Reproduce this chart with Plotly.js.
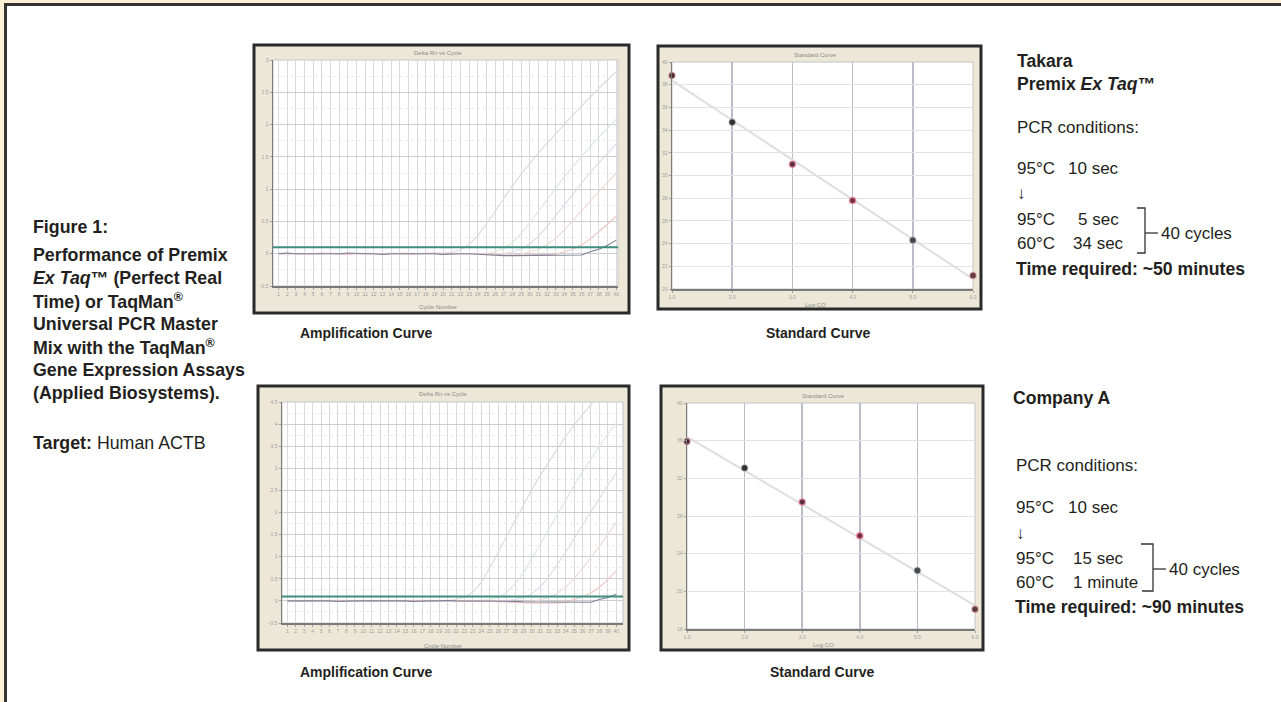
<!DOCTYPE html>
<html><head><meta charset="utf-8">
<script src="https://cdn.plot.ly/plotly-3.0.1.min.js"></script>
<style>html,body{margin:0;padding:0;background:#fff;}#chart{width:1281px;height:702px;}</style>
</head><body><div id="chart"></div>
<script>
// ---------------- DATA ----------------
const cycles = [1,2,3,4,5,6,7,8,9,10,11,12,13,14,15,16,17,18,19,20,21,22,23,24,25,26,27,28,29,30,31,32,33,34,35,36,37,38,39,40];

// Takara Premix Ex Taq - amplification (Delta Rn per cycle)
const ampTop1 = [0.00,0.01,0.00,-0.01,0.00,0.01,0.00,0.00,-0.01,0.00, 0.01,0.00,0.00,-0.01,0.00,0.00,0.01,0.00,0.00,0.01, 0.02,0.06,0.14,0.28,0.46,0.66,0.86,1.05,1.23,1.40, 1.56,1.71,1.86,2.01,2.15,2.29,2.43,2.56,2.69,2.82];
const ampTop2 = [0.00,0.00,0.01,0.00,-0.01,0.00,0.00,0.01,0.00,0.00, -0.01,0.00,0.00,0.01,0.00,0.00,-0.01,0.00,0.00,0.00, 0.01,0.00,0.00,-0.01,0.00,0.03,0.08,0.17,0.31,0.48, 0.66,0.84,1.02,1.19,1.35,1.51,1.66,1.81,1.95,2.08];
const ampTop3 = [0.00,-0.01,0.00,0.00,0.01,0.00,0.00,-0.01,0.00,0.01, 0.00,0.00,0.00,-0.01,0.00,0.01,0.00,0.00,0.00,-0.01, 0.00,0.00,0.01,0.00,0.00,-0.01,0.00,0.03,0.07,0.15, 0.27,0.42,0.59,0.76,0.93,1.10,1.26,1.41,1.56,1.70];
const ampTop4 = [0.01,0.00,0.00,0.00,-0.01,0.00,0.01,0.00,0.00,0.00, 0.00,-0.01,0.00,0.00,0.01,0.00,0.00,0.00,-0.01,0.00, 0.00,0.01,0.00,0.00,-0.01,0.00,0.00,-0.01,-0.01,0.03, 0.07,0.14,0.24,0.37,0.52,0.67,0.82,0.97,1.11,1.25];
const ampTop5 = [0.00,0.00,-0.01,0.00,0.00,0.01,0.00,0.00,-0.01,0.00, 0.00,0.01,0.00,0.00,0.00,-0.01,0.00,0.00,0.01,0.00, 0.00,0.00,-0.01,0.00,0.00,0.00,-0.02,-0.02,-0.02,-0.02, -0.02,-0.01,-0.01,0.03,0.07,0.14,0.23,0.34,0.46,0.58];
const ampTop6 = [0.00,0.01,0.00,0.00,0.00,-0.01,0.00,0.00,0.01,0.00, 0.00,0.00,-0.01,0.00,0.00,0.00,0.01,0.00,0.00,-0.01, 0.00,0.00,0.00,-0.01,-0.02,-0.02,-0.03,-0.03,-0.03,-0.03, -0.03,-0.03,-0.03,-0.02,-0.02,-0.02,0.03,0.07,0.13,0.21];
const thresholdTop = 0.1;

// Takara - standard curve
const logQty = [1,2,3,4,5,6];
const ctTop = [38.8,34.7,31.0,27.8,24.3,21.2];

// Company A - amplification
const ampBot1 = [0.00,0.01,0.00,0.00,-0.01,0.00,0.00,0.01,0.00,0.00, 0.00,-0.01,0.00,0.00,0.01,0.00,0.00,0.00,0.00,0.01, 0.03,0.08,0.20,0.42,0.75,1.10,1.47,1.83,2.18,2.52, 2.84,3.15,3.44,3.72,3.98,4.22,4.44,4.64,4.82,4.98];
const ampBot2 = [0.00,0.00,0.01,0.00,0.00,-0.01,0.00,0.00,0.01,0.00, 0.00,0.00,-0.01,0.00,0.00,0.01,0.00,0.00,0.00,-0.01, 0.00,0.00,0.01,0.00,0.03,0.08,0.19,0.38,0.64,0.95, 1.28,1.62,1.96,2.29,2.61,2.92,3.22,3.50,3.77,4.02];
const ampBot3 = [0.01,0.00,0.00,-0.01,0.00,0.00,0.01,0.00,0.00,0.00, -0.01,0.00,0.00,0.00,0.01,0.00,0.00,-0.01,0.00,0.00, 0.00,0.01,0.00,0.00,-0.01,0.00,0.00,0.03,0.07,0.16, 0.32,0.54,0.81,1.10,1.41,1.72,2.03,2.33,2.62,2.90];
const ampBot4 = [0.00,0.00,0.00,0.01,0.00,0.00,-0.01,0.00,0.00,0.01, 0.00,0.00,0.00,-0.01,0.00,0.00,0.01,0.00,0.00,0.00, -0.01,0.00,0.00,0.01,0.00,0.00,-0.01,-0.02,-0.02,-0.02, 0.03,0.08,0.17,0.31,0.50,0.73,0.98,1.24,1.51,1.77];
const ampBot5 = [0.00,-0.01,0.00,0.00,0.00,0.01,0.00,0.00,-0.01,0.00, 0.01,0.00,0.00,0.00,-0.01,0.00,0.00,0.01,0.00,0.00, 0.00,0.00,-0.01,0.00,0.00,-0.02,-0.03,-0.04,-0.05,-0.05, -0.05,-0.05,-0.05,-0.04,0.04,0.09,0.18,0.31,0.48,0.68];
const ampBot6 = [0.00,0.00,0.01,0.00,0.00,0.00,-0.01,0.00,0.00,0.00, 0.00,0.01,0.00,0.00,0.00,-0.01,0.00,0.00,0.00,0.01, 0.00,0.00,0.00,-0.01,0.00,0.00,-0.01,-0.01,-0.02,-0.02, -0.02,-0.03,-0.03,-0.03,-0.03,-0.03,-0.03,0.03,0.08,0.15];
const thresholdBot = 0.1;

// Company A - standard curve
const ctBot = [35.9,33.1,29.5,25.9,22.2,18.1];

// ---------------- LAYOUT HELPERS ----------------
const W = 1281, H = 702;
const X = p => p / W;
const Y = p => 1 - p / H;
const FONT = 'Liberation Sans, Arial, Helvetica, sans-serif';
const INK = '#231f20';

const panels = [
  {box:[254,45,629,313], plot:[273,60,618,286], title:'Delta Rn vs Cycle', xt:'Cycle Number', tpos:[438,53], xpos:[438,307]},
  {box:[658,46,981,309], plot:[672,62,973,289], title:'Standard Curve', xt:'Log CO', tpos:[815,55], xpos:[815,305]},
  {box:[258,386,629,650], plot:[282,402,623,623], title:'Delta Rn vs Cycle', xt:'Cycle Number', tpos:[443,394], xpos:[443,646]},
  {box:[661,386,983,650], plot:[687,403,975,629], title:'Standard Curve', xt:'Log CO', tpos:[823,396], xpos:[823,645]}
];

const shapes = [];
// outer page frame
shapes.push({type:'rect', xref:'paper', yref:'paper', x0:0, x1:X(4), y0:0, y1:1, fillcolor:'#fdf0d5', line:{width:0}, layer:'below'});
shapes.push({type:'rect', xref:'paper', yref:'paper', x0:0, x1:1, y0:Y(3), y1:1, fillcolor:'#fdf0d5', line:{width:0}, layer:'below'});
shapes.push({type:'rect', xref:'paper', yref:'paper', x0:X(5.5), x1:X(1300), y0:Y(720), y1:Y(4.5), fillcolor:'rgba(0,0,0,0)', line:{color:'#333333', width:3}, layer:'below'});

panels.forEach(p => {
  shapes.push({type:'rect', xref:'paper', yref:'paper', x0:X(p.box[0]), x1:X(p.box[2]), y0:Y(p.box[3]), y1:Y(p.box[1]),
    fillcolor:'#ece7d6', line:{color:'#2a2a2a', width:3}, layer:'below'});
  shapes.push({type:'rect', xref:'paper', yref:'paper', x0:X(p.plot[0]), x1:X(p.plot[2]), y0:Y(p.plot[3]), y1:Y(p.plot[1]),
    fillcolor:'#ffffff', line:{color:'#c4c4c4', width:1}, layer:'below'});
});

// thresholds
shapes.push({type:'line', xref:'x domain', yref:'y', x0:0, x1:1, y0:thresholdTop, y1:thresholdTop, line:{color:'#3f8d80', width:2}});
shapes.push({type:'line', xref:'x3 domain', yref:'y3', x0:0, x1:1, y0:thresholdBot, y1:thresholdBot, line:{color:'#3f8d80', width:2}});

// brackets
function path(pts){ return pts.map((q,i)=>(i?'L':'M')+X(q[0])+','+Y(q[1])).join(' '); }
shapes.push({type:'path', xref:'paper', yref:'paper', path:path([[1137,208],[1145,208],[1145,253],[1137,253]]), line:{color:'#333', width:1.3}});
shapes.push({type:'path', xref:'paper', yref:'paper', path:path([[1145,233],[1158,233]]), line:{color:'#333', width:1.3}});
shapes.push({type:'path', xref:'paper', yref:'paper', path:path([[1141,544],[1153,544],[1153,591],[1142,591]]), line:{color:'#333', width:1.3}});
shapes.push({type:'path', xref:'paper', yref:'paper', path:path([[1153,569],[1166,569]]), line:{color:'#333', width:1.3}});

// ---------------- ANNOTATIONS ----------------
const ann = [];
function t(x, y, text, size, bold, anchor, color, fam){
  ann.push({xref:'paper', yref:'paper', x:X(x), y:Y(y), xanchor:anchor||'left', yanchor:'middle',
    text: bold ? '<b>'+text+'</b>' : text, showarrow:false, borderpad:0,
    font:{family:fam||FONT, size:size, color:color||INK}});
}
// left block
const LX = 32, LS = 17.8;
t(LX,227,'Figure 1:',LS,true);
t(LX,255,'Performance of Premix',LS,true);
t(LX,278,'<i>Ex Taq</i>™ (Perfect Real',LS,true);
t(LX,301,'Time) or TaqMan<sup>®</sup>',LS,true);
t(LX,324,'Universal PCR Master',LS,true);
t(LX,347,'Mix with the TaqMan<sup>®</sup>',LS,true);
t(LX,370,'Gene Expression Assays',LS,true);
t(LX,393,'(Applied Biosystems).',LS,true);
t(LX,443,'<b>Target:</b> Human ACTB',LS,false);

// right top block
const RS = 17, RB = 17.6;
t(1016,61,'Takara',RB,true);
t(1016,84,'Premix <i>Ex Taq</i>™',RB,true);
t(1016,128,'PCR conditions:',RS);
t(1016,168,'95°C',RS); t(1067,168,'10 sec',RS);
t(1016,193,'↓',RS);
t(1016,220,'95°C',RS); t(1077,220,'5 sec',RS);
t(1016,243,'60°C',RS); t(1072,243,'34 sec',RS);
t(1160,233,'40 cycles',RS);
t(1015,269,'Time required: ~50 minutes',RB,true);

// right bottom block
t(1012,398,'Company A',RB,true);
t(1015,465,'PCR conditions:',RS);
t(1015,507,'95°C',RS); t(1067,507,'10 sec',RS);
t(1015,533,'↓',RS);
t(1015,558,'95°C',RS); t(1072,558,'15 sec',RS);
t(1015,582,'60°C',RS); t(1072,582,'1 minute',RS);
t(1168,569,'40 cycles',RS);
t(1014,607,'Time required: ~90 minutes',RB,true);

// captions
t(366,333,'Amplification Curve',14,true,'center');
t(818,333,'Standard Curve',14,true,'center');
t(366,672,'Amplification Curve',14,true,'center');
t(822,672,'Standard Curve',14,true,'center');

// small in-panel labels
panels.forEach(p => {
  t(p.tpos[0], p.tpos[1], p.title, 6, false, 'center', '#8a8a8a');
  t(p.xpos[0], p.xpos[1], p.xt, 6, false, 'center', '#8a8a8a');
});

// ---------------- AXES ----------------
const dom = p => ({x:[X(p.plot[0]), X(p.plot[2])], y:[Y(p.plot[3]), Y(p.plot[1])]});
const tickF = {family:FONT, size:5, color:'#a0a0a0'};
function ampX(p, range, anchor){ const d = dom(p); return {domain:d.x, anchor, range, tickmode:'array', tickvals:cycles, tickangle:0,
  tickfont:tickF, ticks:'outside', ticklen:2, tickcolor:'#a0a0a0', showgrid:true, gridcolor:'#dadada', gridwidth:1,
  showline:true, linecolor:'#7a7a7a', linewidth:1.5, zeroline:false, fixedrange:true}; }
function ampY(p, range, anchor){ const d = dom(p); return {domain:d.y, anchor, range, dtick:0.5, tick0:0,
  tickfont:tickF, ticks:'outside', ticklen:2, tickcolor:'#a0a0a0', showgrid:true, gridcolor:'#cdcdcd', gridwidth:1,
  minor:{dtick:0.25, showgrid:true, gridcolor:'#ececec', griddash:'dot'},
  showline:true, linecolor:'#7a7a7a', linewidth:1.5, zeroline:false, fixedrange:true}; }
function stdX(p, anchor){ const d = dom(p); return {domain:d.x, anchor, range:[1,6], tickmode:'array', tickvals:logQty, tickformat:'.1f',
  tickfont:tickF, ticks:'outside', ticklen:2, tickcolor:'#a0a0a0', showgrid:true, gridcolor:'#bcbcc8', gridwidth:1.5,
  showline:true, linecolor:'#7a7a7a', linewidth:1.5, zeroline:false, fixedrange:true}; }
function stdY(p, range, dtick, anchor){ const d = dom(p); return {domain:d.y, anchor, range, dtick,
  tickfont:tickF, ticks:'outside', ticklen:2, tickcolor:'#a0a0a0', showgrid:true, gridcolor:'#e2e2e2', gridwidth:1,
  showline:true, linecolor:'#7a7a7a', linewidth:1.5, zeroline:false, fixedrange:true}; }

// ---------------- TRACES ----------------
const ampColors = ['#dadada','#d8e9d8','#dcdcea','#eedada','#efc6c6','#7d8196'];
const traces = [];
[ampTop1,ampTop2,ampTop3,ampTop4,ampTop5,ampTop6].forEach((s,i)=>traces.push({type:'scatter', mode:'lines', x:cycles, y:s,
  xaxis:'x', yaxis:'y', line:{color:ampColors[i], width:1.1}, hoverinfo:'skip'}));
[ampBot1,ampBot2,ampBot3,ampBot4,ampBot5,ampBot6].forEach((s,i)=>traces.push({type:'scatter', mode:'lines', x:cycles, y:s,
  xaxis:'x3', yaxis:'y3', line:{color:ampColors[i], width:1.1}, hoverinfo:'skip'}));

function fit(xs, ys){
  const n = xs.length, mx = xs.reduce((a,b)=>a+b,0)/n, my = ys.reduce((a,b)=>a+b,0)/n;
  let sxy=0, sxx=0; for(let i=0;i<n;i++){ sxy+=(xs[i]-mx)*(ys[i]-my); sxx+=(xs[i]-mx)**2; }
  const b = sxy/sxx, a = my - b*mx;
  const x0 = xs[0], x1 = xs[n-1];
  return {x:[x0,x1], y:[a+b*x0, a+b*x1]};
}
const ptColors = ['#4a2c34','#2f2f33','#553040','#663040','#45464e','#5a3a3e'];
const ptLines = ['rgba(200,120,130,0.5)','rgba(120,120,120,0.4)','rgba(235,120,145,0.7)','rgba(235,120,145,0.8)','rgba(120,120,120,0.4)','rgba(200,120,130,0.5)'];
[[ctTop,'x2','y2'],[ctBot,'x4','y4']].forEach(([ct,xa,ya])=>{
  const f = fit(logQty, ct);
  traces.push({type:'scatter', mode:'lines', x:f.x, y:f.y, xaxis:xa, yaxis:ya, line:{color:'#dedede', width:2}, hoverinfo:'skip'});
  traces.push({type:'scatter', mode:'markers', x:logQty, y:ct, xaxis:xa, yaxis:ya, cliponaxis:false,
    marker:{size:6, color:ptColors, line:{color:ptLines, width:1.5}}, hoverinfo:'skip'});
});

const layout = {
  width:W, height:H, margin:{l:0,r:0,t:0,b:0}, paper_bgcolor:'#ffffff', plot_bgcolor:'rgba(0,0,0,0)',
  showlegend:false, hovermode:false,
  xaxis: ampX(panels[0],[0.35,40.2],'y'), yaxis: ampY(panels[0],[-0.5,3.0],'x'),
  xaxis2: stdX(panels[1],'y2'), yaxis2: stdY(panels[1],[20,40],2,'x2'),
  xaxis3: ampX(panels[2],[0.37,40.8],'y3'), yaxis3: ampY(panels[2],[-0.5,4.5],'x3'),
  xaxis4: stdX(panels[3],'y4'), yaxis4: stdY(panels[3],[16,40],4,'x4'),
  shapes, annotations: ann
};
Plotly.newPlot('chart', traces, layout, {staticPlot:true, displayModeBar:false});
</script></body></html>
